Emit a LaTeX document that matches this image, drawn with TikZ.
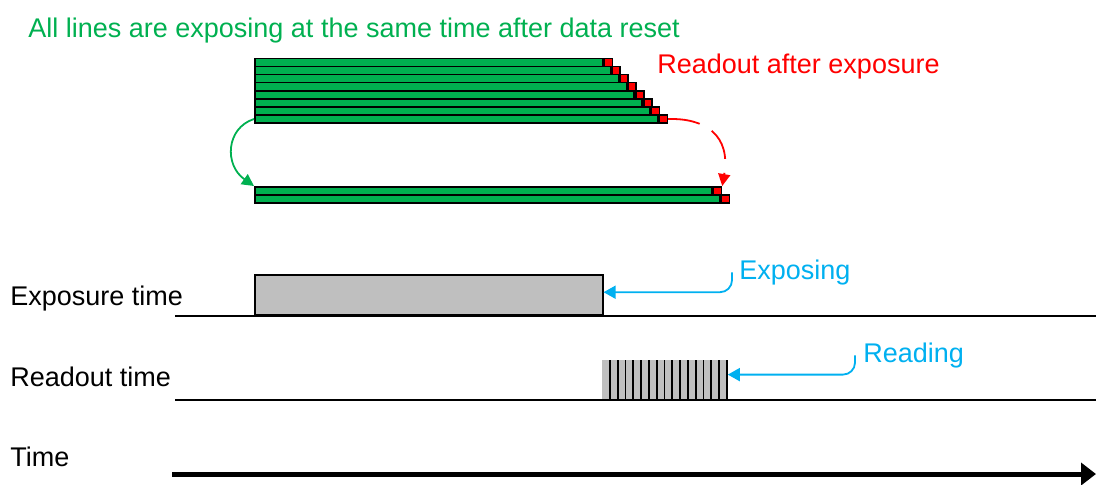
\documentclass[tikz,border=0pt]{standalone}
\usepackage{fontspec}
\setmainfont{Liberation Sans}
\usepackage{xcolor}
\usepackage{tikz}
\usetikzlibrary{arrows.meta}
\definecolor{barGreen}{RGB}{0,176,80}
\definecolor{readRed}{RGB}{255,0,0}
\definecolor{noteBlue}{RGB}{0,176,240}
\definecolor{boxGray}{RGB}{191,191,191}

\tikzset{
  bar/.style={draw, line width=0.8pt, fill=barGreen, inner sep=0, minimum height=4pt},
  redsq/.style={draw, line width=0.8pt, fill=readRed, inner sep=0, minimum width=4pt, minimum height=4pt},
  label/.style={inner sep=0, anchor=base west, font=\fontsize{13.5}{16}\selectfont},
  notearrow/.style={noteBlue, line width=0.9pt, rounded corners=6pt, -{Triangle[length=6pt,width=6.5pt]}},
  axis/.style={line width=1pt},
}

\begin{document}
\begin{tikzpicture}[x=0.5pt, y=-0.5pt]
  \useasboundingbox (0,0) rectangle (1096,484);
  % all rows exposing together
  \foreach \i in {0,...,7}{
    \node[bar, minimum width={(348+7.86*\i)*0.5pt}, anchor=north west] (row\i) at (254,{57.5+8.1*\i}) {};
    \node[redsq, anchor=west] (rs\i) at (row\i.east) {};
  }
  \node[bar, minimum width=228.5pt, anchor=north west] (low0) at (254,186) {};
  \node[redsq, anchor=west] (rl0) at (low0.east) {};
  \node[bar, minimum width=232.5pt, anchor=north west] (low1) at (254,194) {};
  \node[redsq, anchor=west] (rl1) at (low1.east) {};

  \node[label, barGreen] (title) at (28,37.7) {All lines are exposing at the same time after data reset};
  \node[label, readRed] (readnote) at (657,73.3) {Readout after exposure};

  \draw[barGreen, line width=0.9pt, -{Triangle[length=6pt,width=6pt]}] (row7.west) .. controls (226,128) and (224,165) .. (low0.north west);
  \draw[readRed, line width=0.9pt, dash pattern=on 16pt off 7pt, -{Triangle[length=6pt,width=6pt]}] (rs7.east) .. controls (705,118) and (731,135) .. (rl0.north east);

  % timing rows
  \node[label] (exptime) at (10,305) {Exposure time};
  \node[label] (readtime) at (10,386.7) {Readout time};
  \node[label] (timelbl) at (10,466.7) {Time};

  \coordinate (expL) at (175,316);
  \coordinate (expR) at (1096,316);
  \coordinate (readL) at (175,400);
  \coordinate (readR) at (1096,400);
  \coordinate (timeL) at (172,474);
  \coordinate (timeR) at (1096,474);

  \node[draw, line width=0.8pt, fill=boxGray, inner sep=0, minimum width=174pt, minimum height=20pt, anchor=south west] (expbox) at (254,316) {};
  \node[fill=boxGray, inner sep=0, minimum width=62.5pt, minimum height=20pt, anchor=south west] (readbox) at (602,400) {};
  \foreach \k in {1,...,16}
    \draw[line width=0.9pt] ({602+7.8125*\k},360) -- ({602+7.8125*\k},400);

  \draw[axis] (expL) -- (expR);
  \draw[axis] (readL) -- (readR);
  \draw[line width=2.5pt, -{Triangle[length=7.5pt,width=11pt]}] (timeL) -- (timeR);

  \node[label, noteBlue] (exposing) at (739,279.3) {Exposing};
  \node[label, noteBlue] (reading) at (863,362.3) {Reading};
  \draw[notearrow] ([xshift=-3.5pt]exposing.west) |- ([yshift=1.5pt]expbox.east);
  \draw[notearrow] ([xshift=-4pt]reading.west) |- ([yshift=2.5pt]readbox.east);
\end{tikzpicture}
\end{document}
